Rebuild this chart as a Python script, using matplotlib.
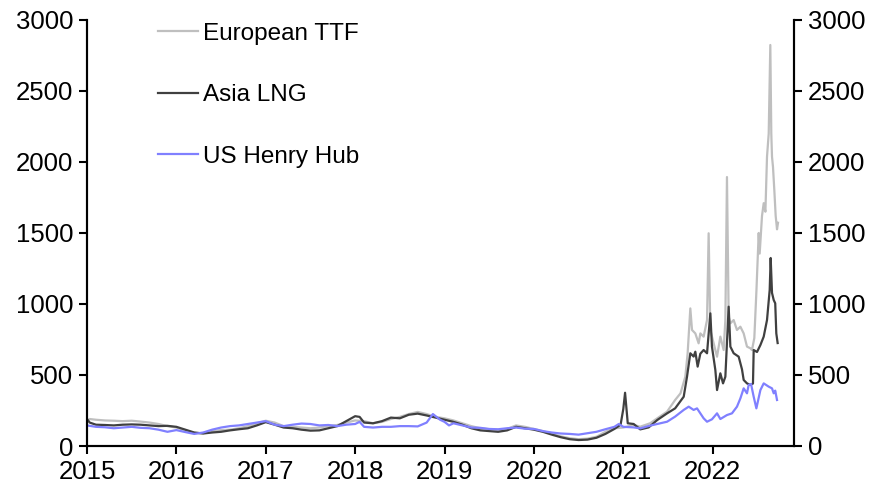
import matplotlib
matplotlib.use('Agg')
import matplotlib.pyplot as plt

plt.rcParams['font.family'] = ['Liberation Sans', 'DejaVu Sans']

# dates as decimal years, values as indices
ttf_x = [2015.0, 2015.03, 2015.1, 2015.2, 2015.3, 2015.4, 2015.5, 2015.6, 2015.7, 2015.8, 2015.9,
         2016.0, 2016.1, 2016.2, 2016.3, 2016.4, 2016.5, 2016.6, 2016.7, 2016.8, 2016.9,
         2017.0, 2017.1, 2017.2, 2017.3, 2017.4, 2017.5, 2017.6, 2017.7, 2017.8, 2017.9,
         2018.0, 2018.1, 2018.2, 2018.3, 2018.4, 2018.5, 2018.6, 2018.7, 2018.8, 2018.9,
         2019.0, 2019.1, 2019.2, 2019.3, 2019.4, 2019.5, 2019.6, 2019.7, 2019.8, 2019.9,
         2020.0, 2020.1, 2020.2, 2020.3, 2020.4, 2020.5, 2020.6, 2020.7, 2020.8, 2020.9,
         2021.0, 2021.116, 2021.19, 2021.30, 2021.38, 2021.49, 2021.58, 2021.64, 2021.694,
         2021.72, 2021.75, 2021.769, 2021.806, 2021.843, 2021.862, 2021.899, 2021.937, 2021.955,
         2021.974, 2022.011, 2022.049, 2022.086, 2022.123, 2022.142, 2022.16, 2022.179, 2022.198,
         2022.235, 2022.272, 2022.31, 2022.347, 2022.384, 2022.422, 2022.44, 2022.466, 2022.49,
         2022.515, 2022.526, 2022.552, 2022.571, 2022.59, 2022.608, 2022.627, 2022.645, 2022.656,
         2022.664, 2022.675, 2022.69, 2022.705, 2022.72, 2022.731]
ttf_y = [175, 190, 185, 180, 178, 175, 178, 172, 165, 155, 140,
         130, 110, 92, 90, 105, 112, 115, 125, 140, 160,
         178, 165, 140, 135, 130, 125, 130, 140, 148, 165,
         180, 175, 160, 170, 190, 205, 225, 240, 225, 205,
         195, 180, 160, 140, 125, 118, 112, 120, 145, 135,
         120, 105, 85, 68, 55, 48, 52, 65, 100, 125,
         130, 148, 136, 160, 195, 242, 324, 371, 488,
         653, 969, 817, 793, 723, 793, 770, 887, 1498,
         817, 723, 629, 770, 676, 887, 1894, 911, 864,
         887, 817, 840, 793, 700, 688, 676, 760, 1099,
         1500, 1355, 1620, 1710, 1650, 2037, 2200, 2824, 2200,
         2037, 1965, 1800, 1620, 1526, 1572]

asia_x = [2015.0, 2015.03, 2015.1, 2015.2, 2015.3, 2015.4, 2015.5, 2015.6, 2015.7, 2015.8, 2015.9,
          2016.0, 2016.1, 2016.2, 2016.3, 2016.4, 2016.5, 2016.6, 2016.7, 2016.8, 2016.9,
          2017.0, 2017.1, 2017.2, 2017.3, 2017.4, 2017.5, 2017.6, 2017.7, 2017.8, 2017.9,
          2018.0, 2018.05, 2018.1, 2018.2, 2018.3, 2018.4, 2018.5, 2018.6, 2018.7, 2018.8, 2018.9,
          2019.0, 2019.1, 2019.2, 2019.3, 2019.4, 2019.5, 2019.6, 2019.7, 2019.8, 2019.9,
          2020.0, 2020.1, 2020.2, 2020.3, 2020.4, 2020.5, 2020.6, 2020.7, 2020.8, 2020.9, 2020.97,
          2021.0, 2021.02, 2021.05, 2021.116, 2021.19, 2021.284, 2021.38, 2021.49, 2021.58,
          2021.676, 2021.713, 2021.75, 2021.787, 2021.806, 2021.832, 2021.862, 2021.899, 2021.937,
          2021.974, 2021.992, 2022.03, 2022.049, 2022.086, 2022.116, 2022.142, 2022.179, 2022.198,
          2022.235, 2022.291, 2022.328, 2022.347, 2022.384, 2022.422, 2022.451, 2022.459, 2022.496,
          2022.534, 2022.571, 2022.608, 2022.638, 2022.649, 2022.664, 2022.683, 2022.70, 2022.712,
          2022.727]
asia_y = [190, 165, 150, 148, 145, 150, 152, 150, 145, 140, 142,
          135, 115, 95, 88, 95, 100, 110, 118, 125, 145,
          168, 150, 130, 125, 115, 108, 110, 125, 140, 175,
          210, 205, 165, 160, 175, 200, 195, 220, 228, 215, 200,
          185, 170, 150, 125, 110, 105, 100, 110, 135, 125,
          115, 100, 80, 62, 48, 42, 45, 58, 85, 120, 150,
          260, 375, 160, 155, 117, 131, 183, 230, 265,
          347, 488, 653, 630, 664, 559, 650, 676, 653,
          934, 700, 535, 394, 512, 441, 488, 981, 700,
          653, 629, 540, 465, 441, 430, 440, 676, 662,
          711, 770, 887, 1099, 1324, 1078, 1028, 1005, 793,
          725]

hh_x = [2015.0, 2015.1, 2015.2, 2015.3, 2015.4, 2015.5, 2015.6, 2015.7, 2015.8, 2015.9,
        2016.0, 2016.1, 2016.2, 2016.3, 2016.4, 2016.5, 2016.6, 2016.7, 2016.8, 2016.9,
        2017.0, 2017.1, 2017.2, 2017.3, 2017.4, 2017.5, 2017.6, 2017.7, 2017.8, 2017.9,
        2018.0, 2018.05, 2018.1, 2018.2, 2018.3, 2018.4, 2018.5, 2018.6, 2018.7, 2018.8, 2018.87, 2018.95,
        2019.0, 2019.05, 2019.1, 2019.2, 2019.3, 2019.4, 2019.5, 2019.6, 2019.7, 2019.8, 2019.9,
        2020.0, 2020.1, 2020.2, 2020.3, 2020.4, 2020.5, 2020.6, 2020.7, 2020.8, 2020.9, 2020.95,
        2021.0, 2021.116, 2021.19, 2021.284, 2021.38, 2021.49, 2021.58, 2021.676, 2021.732,
        2021.787, 2021.825, 2021.862, 2021.899, 2021.937, 2021.992, 2022.049, 2022.086, 2022.16,
        2022.216, 2022.272, 2022.31, 2022.347, 2022.384, 2022.403, 2022.429, 2022.459, 2022.489,
        2022.534, 2022.571, 2022.627, 2022.664, 2022.683, 2022.70, 2022.72]
hh_y = [145, 135, 132, 125, 130, 135, 128, 125, 115, 100,
        112, 98, 85, 95, 115, 130, 140, 145, 155, 165,
        175, 150, 140, 150, 158, 155, 145, 148, 140, 150,
        155, 170, 135, 130, 135, 135, 140, 140, 138, 165, 225, 185,
        170, 145, 160, 145, 130, 128, 120, 118, 125, 130, 122,
        120, 105, 95, 88, 85, 80, 90, 100, 118, 135, 155,
        135, 131, 124, 141, 155, 171, 207, 254, 277,
        254, 265, 230, 195, 171, 188, 230, 190, 218,
        230, 277, 335, 406, 371, 430, 437, 347, 265,
        394, 441, 418, 406, 371, 390, 324]

years = list(range(2015, 2023))

fig = plt.figure(figsize=(8.8, 4.88), dpi=100)
ax = fig.add_axes([87 / 880, 1 - 446 / 488, (794 - 87) / 880, (446 - 20) / 488])

ax.plot(ttf_x, ttf_y, color='#BFBFBF', lw=1.6, label='European TTF')
ax.plot(asia_x, asia_y, color='#404040', lw=1.6, label='Asia LNG')
ax.plot(hh_x, hh_y, color='#8080FF', lw=1.6, label='US Henry Hub')

ax.set_xlim(2015, 2022.91)
ax.set_ylim(0, 3000)
ax.set_xticks(years)
ax.set_xticklabels([str(y) for y in years])
ax.set_yticks(range(0, 3001, 500))

ax2 = ax.twinx()
ax2.set_ylim(0, 3000)
ax2.set_yticks(range(0, 3001, 500))

for a in (ax, ax2):
    a.spines['top'].set_visible(False)
    for s in ('left', 'right', 'bottom'):
        a.spines[s].set_linewidth(1.5)
        a.spines[s].set_color('black')
    a.tick_params(axis='both', direction='out', length=6, width=1.5, labelsize=18.5, pad=4)

ax.legend(loc='upper left', bbox_to_anchor=(0.087, 1.016), frameon=False, fontsize=17.5,
          handlelength=1.65, handletextpad=0.2, labelspacing=1.62, borderaxespad=0)

fig.savefig('out.png', dpi=100)
